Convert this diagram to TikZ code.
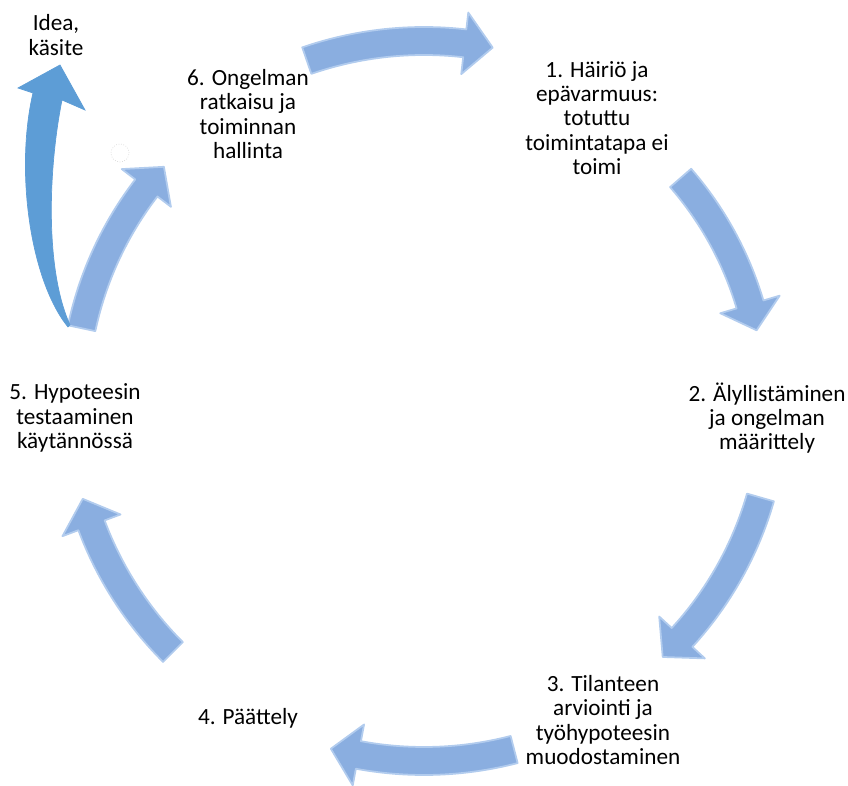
\documentclass[tikz,border=0pt]{standalone}
\usepackage{fontspec}
\setmainfont{Carlito}
\usetikzlibrary{calc}
\definecolor{cycfill}{RGB}{138,174,224}
\definecolor{cycedge}{RGB}{178,204,238}
\definecolor{ideafill}{RGB}{93,157,214}

\begin{document}
\begin{tikzpicture}[x=0.02cm, y=0.02cm,
                    lbl/.style={align=center, font=\fontsize{13.2}{13.75}\selectfont, inner sep=0pt},
                    cyc/.style={fill=cycfill, draw=cycedge, line width=1pt, line join=round}]
  \useasboundingbox (0,0) rectangle (848,785);
  \coordinate (c) at (424,384);
  % cycle arrows: start angle / end angle / radius
  \foreach \a/\b/\r in {109/79/360, 41/12/340, -16/-47/350, -75.5/-105/360, -135/-164/355, 168/138/350} {
    \filldraw[cyc] ($(c)+(\a:{\r+14})$) arc[start angle=\a, end angle=\b+4.5, radius=\r+14]
      -- ($(c)+({\b+4.5}:{\r+31})$) -- ($(c)+(\b:\r)$) -- ($(c)+({\b+4.5}:{\r-31})$)
      -- ($(c)+({\b+4.5}:{\r-14})$) arc[start angle=\b+4.5, end angle=\a, radius=\r-14] -- cycle;
  }
  % idea arrow
  \filldraw[fill=ideafill, draw=ideafill] (68,458) .. controls (30,505) and (15,615) .. (33,692)
    -- (18,697) -- (60,720) -- (85,675) -- (62,685) .. controls (48,615) and (45,515) .. (70,460) -- cycle;
  \draw[black!15, densely dotted] (120,632) circle[radius=9];
  \node[lbl] (t1) at (597,667) {1. Häiriö ja\\epävarmuus:\\totuttu\\toimintatapa ei\\toimi};
  \node[lbl] (t2) at (767,367) {2. Älyllistäminen\\ja ongelman\\määrittely};
  \node[lbl] (t3) at (603,65) {3. Tilanteen\\arviointi ja\\työhypoteesin\\muodostaminen};
  \node[lbl] (t4) at (248,67) {4. Päättely};
  \node[lbl] (t5) at (75,367) {5. Hypoteesin\\testaaminen\\käytännössä};
  \node[lbl] (t6) at (248,671) {6. Ongelman\\ratkaisu ja\\toiminnan\\hallinta};
  \node[lbl] (idea) at (56,750) {Idea,\\käsite};
\end{tikzpicture}
\end{document}
